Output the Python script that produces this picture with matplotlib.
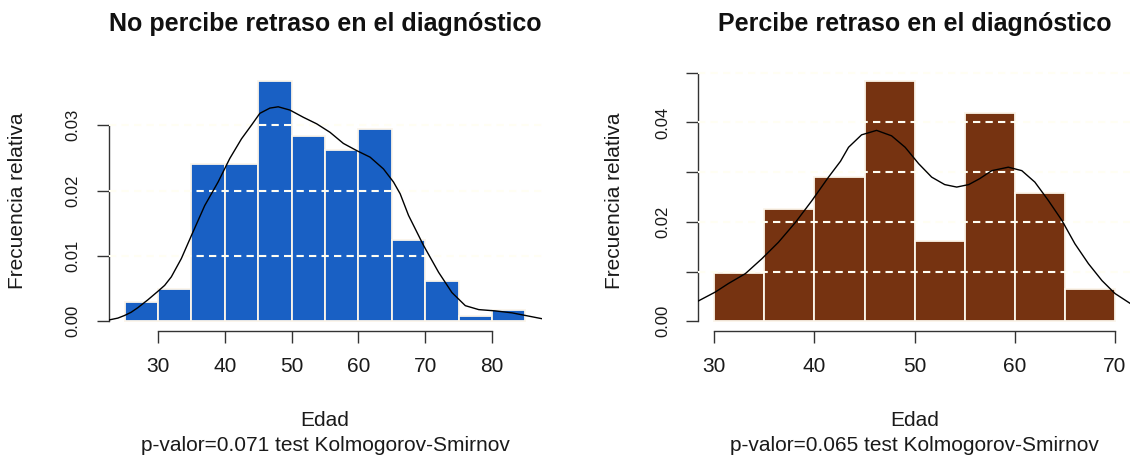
"""
Histogramas de edad por percepción de retraso en el diagnóstico
"""

import numpy as np
import matplotlib
matplotlib.use('Agg')
import matplotlib.pyplot as plt

plt.rcParams['font.family'] = ['Liberation Sans', 'DejaVu Sans']

# Grupo 1: no percibe retraso
bordes_no = [25, 30, 35, 40, 45, 50, 55, 60, 65, 70, 75, 80, 85]
dens_no = [0.0030, 0.0050, 0.0240, 0.0240, 0.0368, 0.0283,
           0.0262, 0.0294, 0.0125, 0.0061, 0.0008, 0.0018]
kde_x_no = [22.6, 24.0, 25.0, 26.0, 27.0, 28.5, 30.0, 31.0, 32.0, 33.5, 35.0,
            37.0, 39.0, 40.75, 42.5, 44.0, 45.25, 46.75, 48.0, 49.75, 51.75,
            53.75, 55.75, 57.75, 59.75, 61.75, 63.75, 65.25, 66.25, 67.5,
            69.75, 72.0, 74.0, 76.0, 78.0, 80.5, 83.0, 85.0, 87.5]
kde_y_no = [0.0002, 0.0005, 0.0009, 0.0014, 0.0021, 0.0033, 0.0046, 0.0055,
            0.0068, 0.0096, 0.0131, 0.0177, 0.0213, 0.0249, 0.0279, 0.0300,
            0.0318, 0.0326, 0.0328, 0.0323, 0.0312, 0.0302, 0.0289, 0.0272,
            0.0261, 0.0251, 0.0233, 0.0213, 0.0195, 0.0162, 0.0116, 0.0075,
            0.0044, 0.0024, 0.0018, 0.0016, 0.0013, 0.0009, 0.0004]

# Grupo 2: percibe retraso
bordes_si = [30, 35, 40, 45, 50, 55, 60, 65, 70]
dens_si = [0.0097, 0.0226, 0.0290, 0.0484, 0.0161, 0.0419, 0.0258, 0.0065]
kde_x_si = [28.4, 30.1, 31.4, 33.1, 34.75, 36.4, 38.1, 39.75, 41.4, 42.6,
            43.4, 44.7, 46.2, 47.7, 49.05, 50.4, 51.7, 53.0, 54.2, 55.4,
            56.5, 57.7, 59.35, 60.7, 62.0, 63.35, 64.7, 66.0, 67.35, 68.7,
            70.0, 71.6]
kde_y_si = [0.0041, 0.0059, 0.0076, 0.0096, 0.0126, 0.0159, 0.0199, 0.0243,
            0.0290, 0.0322, 0.0350, 0.0375, 0.0384, 0.0373, 0.0350, 0.0317,
            0.0290, 0.0275, 0.0270, 0.0275, 0.0287, 0.0303, 0.0310, 0.0303,
            0.0280, 0.0243, 0.0203, 0.0156, 0.0116, 0.0082, 0.0056, 0.0035]

titulos = ['No percibe retraso en el diagnóstico',
           'Percibe retraso en el diagnóstico']
subtitulos = ['p-valor=0.071 test Kolmogorov-Smirnov',
              'p-valor=0.065 test Kolmogorov-Smirnov']
colores = ['#1960C4', '#763311']

W, H = 1130, 462


def dibujar_panel(fig, rect, bordes, dens, kx, ky, color, titulo, subtitulo,
                  yticks, ylabels, xticks):
    """Histograma de densidad con curva de densidad y rejilla discontinua"""
    ax = fig.add_axes(rect)
    bordes = np.asarray(bordes, dtype=float)
    anchos = np.diff(bordes)

    ax.bar(bordes[:-1], dens, width=anchos, align='edge', color=color,
           edgecolor='#FBF5EA', linewidth=1.3, zorder=2)

    # rejilla horizontal (encima de las barras)
    for y in yticks[1:]:
        ax.axhline(y, color='#FFFEF3', lw=1.5, ls=(0, (3.5, 2.5)), zorder=3)

    ax.plot(kx, ky, color='black', lw=1.0, zorder=4)

    # limites al estilo de R (4% de margen)
    xr = bordes[-1] - bordes[0]
    ax.set_xlim(bordes[0] - 0.04 * xr, bordes[-1] + 0.04 * xr)
    ymax = max(dens)
    ax.set_ylim(-0.04 * ymax, 1.04 * ymax)

    for lado in ['top', 'right']:
        ax.spines[lado].set_visible(False)
    ax.spines['left'].set_bounds(yticks[0], yticks[-1])
    ax.spines['bottom'].set_bounds(xticks[0], xticks[-1])
    for lado in ['left', 'bottom']:
        ax.spines[lado].set_color('#333333')
        ax.spines[lado].set_linewidth(1.0)

    ax.set_yticks(yticks)
    ax.set_yticklabels(ylabels)
    ax.set_xticks(xticks)
    ax.set_xticklabels([str(t) for t in xticks])
    ax.tick_params(axis='both', length=8.6, width=1.0, color='#333333',
                   labelcolor='#1a1a1a')
    ax.tick_params(axis='x', pad=10.0, labelsize=15)
    ax.tick_params(axis='y', pad=17, labelsize=12)
    for lab in ax.get_yticklabels():
        lab.set_rotation(90)
        lab.set_ha('center')
        lab.set_va('center')

    x0, _, w, _ = rect
    xc = x0 + w / 2
    fig.text(xc, 1 - 31 / H, titulo, ha='center', va='baseline',
             fontsize=18, fontweight='bold', color='#111111')
    fig.text(xc, 1 - 426 / H, 'Edad', ha='center', va='baseline',
             fontsize=15, color='#1a1a1a')
    fig.text(xc, 1 - 451 / H, subtitulo, ha='center', va='baseline',
             fontsize=15, color='#1a1a1a')
    return ax


fig = plt.figure(figsize=(W / 100, H / 100), dpi=100)
fig.patch.set_facecolor('white')

abajo = (H - 331) / H
alto = 260 / H

ax1 = dibujar_panel(fig, [108.5 / W, abajo, 433 / W, alto],
                    bordes_no, dens_no, kde_x_no, kde_y_no, colores[0],
                    titulos[0], subtitulos[0],
                    [0.0, 0.01, 0.02, 0.03],
                    ['0.00', '0.01', '0.02', '0.03'],
                    [30, 40, 50, 60, 70, 80])
ax2 = dibujar_panel(fig, [698.3 / W, abajo, 432.7 / W, alto],
                    bordes_si, dens_si, kde_x_si, kde_y_si, colores[1],
                    titulos[1], subtitulos[1],
                    [0.0, 0.01, 0.02, 0.03, 0.04, 0.05],
                    ['0.00', '', '0.02', '', '0.04', ''],
                    [30, 40, 50, 60, 70])

fig.text(18 / W, 1 - 201 / H, 'Frecuencia relativa', rotation=90,
         ha='center', va='center', fontsize=15, color='#1a1a1a')
fig.text(615 / W, 1 - 201 / H, 'Frecuencia relativa', rotation=90,
         ha='center', va='center', fontsize=15, color='#1a1a1a')

fig.savefig('out.png', dpi=100, facecolor='white')
plt.close(fig)
